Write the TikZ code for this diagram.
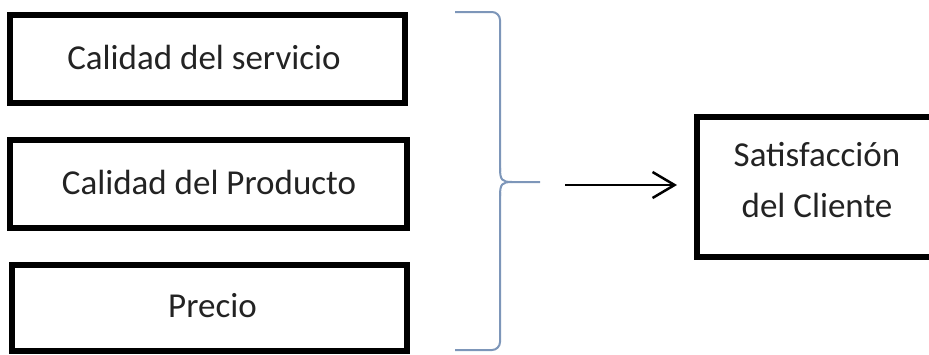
\documentclass[tikz,border=0pt]{standalone}
\usepackage{fontspec}
\setmainfont{Carlito}
\usetikzlibrary{arrows.meta}
\definecolor{bracecol}{RGB}{125,150,185}
\definecolor{txt}{RGB}{35,35,35}
\tikzset{
  box/.style={draw=black, line width=5.5pt, fill=white, inner sep=0pt},
  lbl/.style={font=\fontsize{35}{51}\selectfont, text=txt, align=center, inner sep=0pt},
  bracestyle/.style={draw=bracecol, line width=2pt, rounded corners=8pt},
  arr/.style={draw=black, line width=2.5pt, -{Straight Barb[length=22pt,width=26pt,line width=2.5pt]}}
}
\begin{document}
\begin{tikzpicture}[x=1pt,y=-1pt]
\useasboundingbox (0,0) rectangle (929,354);
\clip (0,0) rectangle (929,354);
% left boxes
\node[box, minimum width=395pt, minimum height=88pt] (b1) at (207.5,59) {};
\node[lbl] (t1) at (204,57) {Calidad del servicio};
\node[box, minimum width=397pt, minimum height=88pt] (b2) at (208.5,184) {};
\node[lbl] (t2) at (209,182) {Calidad del Producto};
\node[box, minimum width=395pt, minimum height=86pt] (b3) at (209.5,308) {};
\node[lbl] (t3) at (212.5,306) {Precio};
% brace
\coordinate (bt) at (455,12);
\coordinate (bm) at (540,182);
\coordinate (bb) at (455,350);
\draw[bracestyle] (bt) -- (500,12) -- (500,172);
\draw[draw=bracecol, line width=2pt] (500,168) .. controls (500,180) and (502,182) .. (512,182) -- (bm);
\draw[draw=bracecol, line width=2pt] (512,182) .. controls (502,182) and (500,184) .. (500,196);
\draw[bracestyle] (500,192) -- (500,350) -- (bb);
% right box (right side runs off the picture)
\node[box, minimum width=290pt, minimum height=140pt] (sat) at (842,187) {};
\node[lbl] (ts) at (817,180) {Satisfacción\\del Cliente};
% arrow
\coordinate (a1) at (565,185);
\coordinate (a2) at (677,185);
\draw[arr] (a1) -- (a2);
\end{tikzpicture}
\end{document}
